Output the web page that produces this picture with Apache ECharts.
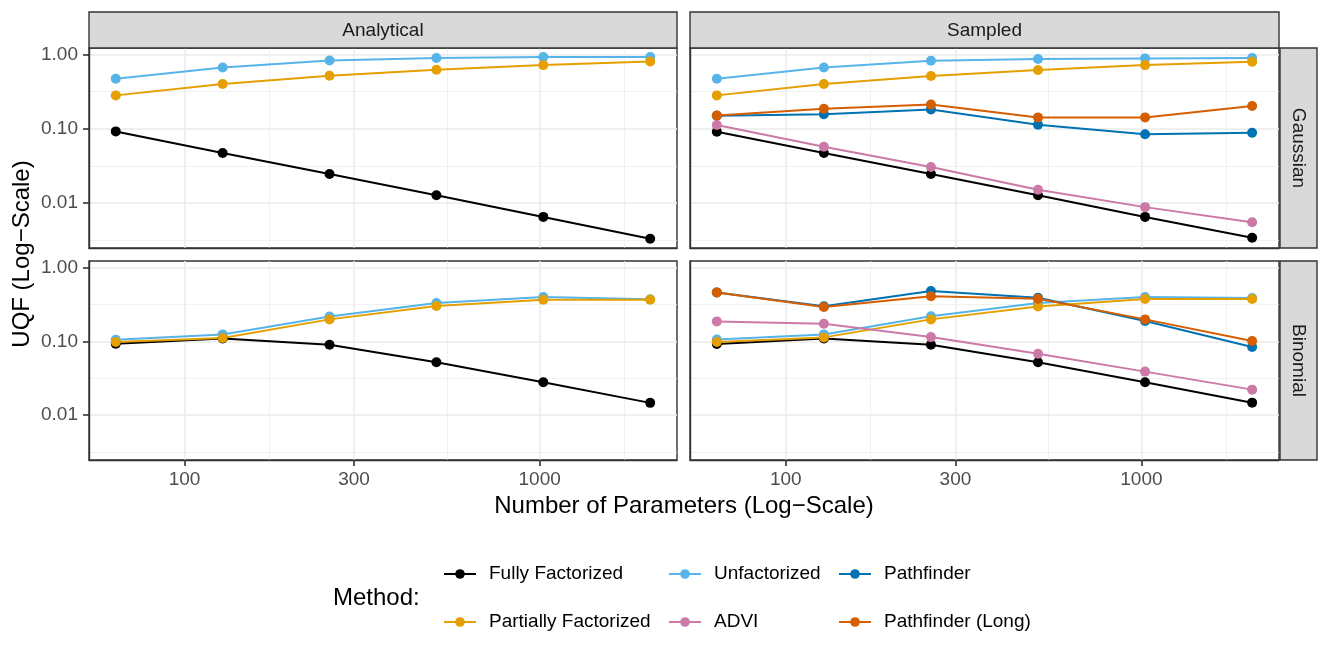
<!DOCTYPE html>
<html><head><meta charset="utf-8">
<script src="https://cdn.jsdelivr.net/npm/echarts@6/dist/echarts.min.js"></script>
<style>html,body{margin:0;padding:0;background:#fff}#c{width:1329px;height:664px}</style>
</head><body><div id="c"></div>
<script>
// ---------- data ----------
const params = [64, 128, 256, 512, 1024, 2048];
const xTicks = [100, 300, 1000];
const xMinorTicks = [173.2, 547.7, 1732];
const yTicks = [0.01, 0.1, 1];
const yMinorTicks = [0.00316, 0.0316, 0.316];
const colTitles = ['Analytical', 'Sampled'];
const rowTitles = ['Gaussian', 'Binomial'];
const methods = ['Fully Factorized', 'Partially Factorized', 'Unfactorized', 'ADVI', 'Pathfinder', 'Pathfinder (Long)'];

// Gaussian / Analytical
const gaFully   = [0.092, 0.047, 0.0246, 0.0127, 0.0065, 0.0033];
const gaPartial = [0.281, 0.399, 0.516, 0.622, 0.718, 0.805];
const gaUnfact  = [0.471, 0.668, 0.830, 0.893, 0.921, 0.921];
// Gaussian / Sampled
const gsFully   = [0.091, 0.047, 0.0246, 0.0127, 0.0065, 0.0034];
const gsPartial = [0.281, 0.399, 0.511, 0.616, 0.718, 0.797];
const gsUnfact  = [0.471, 0.668, 0.822, 0.866, 0.884, 0.893];
const gsAdvi    = [0.112, 0.0573, 0.0305, 0.0151, 0.0088, 0.0055];
const gsPf      = [0.150, 0.157, 0.182, 0.113, 0.084, 0.088];
const gsPfLong  = [0.151, 0.186, 0.212, 0.142, 0.142, 0.202];
// Binomial / Analytical
const baFully   = [0.093, 0.109, 0.090, 0.052, 0.0279, 0.0147];
const baPartial = [0.098, 0.111, 0.198, 0.300, 0.366, 0.365];
const baUnfact  = [0.105, 0.124, 0.216, 0.330, 0.397, 0.370];
// Binomial / Sampled
const bsFully   = [0.092, 0.109, 0.090, 0.052, 0.0279, 0.0148];
const bsPartial = [0.098, 0.113, 0.198, 0.295, 0.373, 0.373];
const bsUnfact  = [0.106, 0.124, 0.218, 0.330, 0.397, 0.385];
const bsAdvi    = [0.186, 0.173, 0.114, 0.068, 0.0389, 0.0222];
const bsPf      = [0.459, 0.297, 0.479, 0.389, 0.188, 0.0838];
const bsPfLong  = [0.459, 0.291, 0.406, 0.377, 0.198, 0.101];

// ---------- build ----------
const panels = [
  {'Fully Factorized': gaFully, 'Unfactorized': gaUnfact, 'Partially Factorized': gaPartial},
  {'Fully Factorized': gsFully, 'Unfactorized': gsUnfact, 'Pathfinder': gsPf, 'Partially Factorized': gsPartial, 'ADVI': gsAdvi, 'Pathfinder (Long)': gsPfLong},
  {'Fully Factorized': baFully, 'Unfactorized': baUnfact, 'Partially Factorized': baPartial},
  {'Fully Factorized': bsFully, 'Unfactorized': bsUnfact, 'Pathfinder': bsPf, 'Partially Factorized': bsPartial, 'ADVI': bsAdvi, 'Pathfinder (Long)': bsPfLong}
];
const drawOrder = ['Fully Factorized', 'Unfactorized', 'Pathfinder', 'Partially Factorized', 'ADVI', 'Pathfinder (Long)'];
const colors = {
  'Fully Factorized': '#000000', 'Partially Factorized': '#E69F00', 'Unfactorized': '#56B4E9',
  'ADVI': '#CC79A7', 'Pathfinder': '#0072B2', 'Pathfinder (Long)': '#D55E00'
};

const FONT = 'Liberation Sans, Arial, Helvetica, sans-serif';
const gridBoxes = [
  {left: 89, top: 48, width: 588, height: 200},
  {left: 690, top: 48, width: 589, height: 200},
  {left: 89, top: 261, width: 588, height: 199},
  {left: 690, top: 261, width: 589, height: 199}
];
const XMIN = 53.8, XMAX = 2437, YMIN = 0.00248, YMAX = 1.22;

const grid = gridBoxes.map(b => Object.assign({show: true, backgroundColor: '#fff', borderColor: '#333333', borderWidth: 1.4, containLabel: false}, b));

const xAxis = [], yAxis = [];
for (let i = 0; i < 4; i++) {
  const bottomRow = i >= 2, leftCol = i % 2 === 0;
  xAxis.push({
    type: 'log', gridIndex: i, min: XMIN, max: XMAX, z: 5, position: 'bottom',
    axisLine: {show: true, lineStyle: {color: '#333333', width: 1.4}},
    axisTick: {show: bottomRow, inside: false, customValues: xTicks, length: 6, lineStyle: {color: '#333333', width: 1.6}},
    axisLabel: {show: bottomRow, customValues: xTicks, margin: 10, color: '#4D4D4D', fontSize: 19, fontFamily: FONT, formatter: v => String(Math.round(v))},
    splitLine: {show: true, lineStyle: {color: '#EBEBEB', width: 1.5}}
  });
  yAxis.push({
    type: 'log', gridIndex: i, min: YMIN, max: YMAX, z: 5, position: 'left',
    axisLine: {show: true, lineStyle: {color: '#333333', width: 1.4}},
    axisTick: {show: leftCol, inside: false, customValues: yTicks, length: 6, lineStyle: {color: '#333333', width: 1.6}},
    axisLabel: {show: leftCol, customValues: yTicks, margin: 11, color: '#4D4D4D', fontSize: 19, fontFamily: FONT, formatter: v => v.toFixed(2)},
    splitLine: {show: true, lineStyle: {color: '#EBEBEB', width: 1.5}}
  });
}
for (let i = 0; i < 4; i++) {
  xAxis.push({
    type: 'log', gridIndex: i, min: XMIN, max: XMAX, z: 4, position: 'top',
    axisLine: {show: false}, axisLabel: {show: false},
    axisTick: {show: false, customValues: xMinorTicks},
    splitLine: {show: true, lineStyle: {color: '#EEEEEE', width: 0.8}}
  });
  yAxis.push({
    type: 'log', gridIndex: i, min: YMIN, max: YMAX, z: 4, position: 'right',
    axisLine: {show: false}, axisLabel: {show: false},
    axisTick: {show: false, customValues: yMinorTicks},
    splitLine: {show: true, lineStyle: {color: '#EEEEEE', width: 0.8}}
  });
}

const series = [];
panels.forEach((p, i) => {
  drawOrder.forEach(m => {
    if (!p[m]) return;
    series.push({
      name: m, type: 'line', xAxisIndex: i, yAxisIndex: i,
      data: params.map((x, k) => [x, p[m][k]]),
      symbol: 'circle', symbolSize: 10, showSymbol: true,
      lineStyle: {color: colors[m], width: 2},
      itemStyle: {color: colors[m]},
      emphasis: {disabled: true}, z: 8
    });
  });
});

const legendCols = [
  {left: 443, data: ['Fully Factorized', 'Partially Factorized']},
  {left: 668, data: ['Unfactorized', 'ADVI']},
  {left: 838, data: ['Pathfinder', 'Pathfinder (Long)']}
];
const legend = legendCols.map(c => ({
  left: c.left, top: 564, padding: 0, orient: 'vertical', itemGap: 28, itemWidth: 32, itemHeight: 12,
  selectedMode: false, data: c.data,
  textStyle: {fontSize: 19, fontFamily: FONT, color: '#000', padding: [0, 0, 0, 8], lineHeight: 20}
}));

const strip = {fill: '#D9D9D9', stroke: '#333333', lineWidth: 1.4};
const stripText = {fill: '#1A1A1A', fontSize: 19, fontFamily: FONT, align: 'center', verticalAlign: 'middle'};
const graphic = [
  {type: 'rect', shape: {x: 89, y: 12, width: 588, height: 36}, style: strip, z: 10},
  {type: 'rect', shape: {x: 690, y: 12, width: 589, height: 36}, style: strip, z: 10},
  {type: 'rect', shape: {x: 1280, y: 48, width: 37, height: 200}, style: strip, z: 10},
  {type: 'rect', shape: {x: 1280, y: 261, width: 37, height: 199}, style: strip, z: 10},
  {type: 'text', x: 383, y: 31, style: Object.assign({text: colTitles[0]}, stripText), z: 11},
  {type: 'text', x: 984.5, y: 31, style: Object.assign({text: colTitles[1]}, stripText), z: 11},
  {type: 'text', x: 1298.5, y: 148, rotation: -Math.PI / 2, style: Object.assign({text: rowTitles[0]}, stripText), z: 11},
  {type: 'text', x: 1298.5, y: 360.5, rotation: -Math.PI / 2, style: Object.assign({text: rowTitles[1]}, stripText), z: 11},
  {type: 'text', x: 22, y: 254, rotation: Math.PI / 2, style: {text: 'UQF (Log\u2212Scale)', fill: '#000', fontSize: 24, fontFamily: FONT, align: 'center', verticalAlign: 'middle'}, z: 11},
  {type: 'text', x: 684, y: 506, style: {text: 'Number of Parameters (Log\u2212Scale)', fill: '#000', fontSize: 24, fontFamily: FONT, align: 'center', verticalAlign: 'middle'}, z: 11},
  {type: 'text', x: 333, y: 598, style: {text: 'Method:', fill: '#000', fontSize: 24, fontFamily: FONT, align: 'left', verticalAlign: 'middle'}, z: 11}
];

const chart = echarts.init(document.getElementById('c'), null, {renderer: 'canvas'});
chart.setOption({animation: false, backgroundColor: '#fff', grid, xAxis, yAxis, series, legend, graphic});
</script></body></html>
